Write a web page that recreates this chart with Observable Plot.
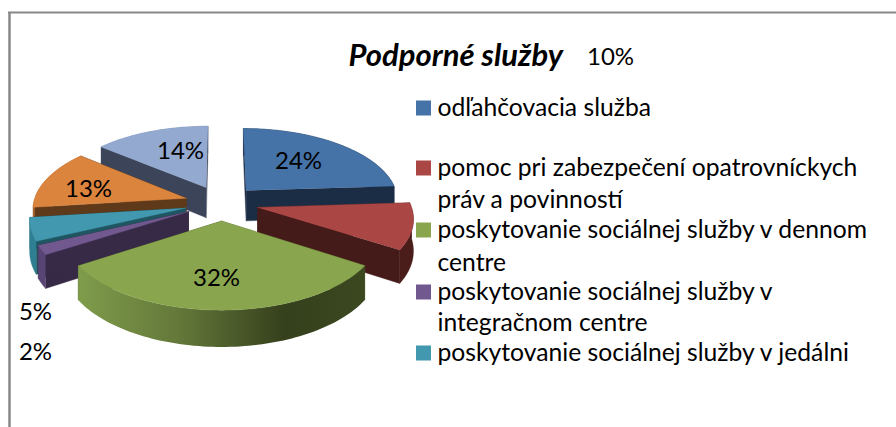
<!DOCTYPE html>
<html>
<head>
<meta charset="utf-8">
<script src="https://cdn.jsdelivr.net/npm/d3@7"></script>
<script src="https://cdn.jsdelivr.net/npm/@observablehq/plot@0.6"></script>
<style>html,body{margin:0;padding:0;background:#fff}svg{display:block}</style>
</head>
<body>
<script>
const titleText = "Podporné služby";
const categories = ["odľahčovacia služba","pomoc pri zabezpečení opatrovníckych práv a povinností","poskytovanie sociálnej služby v dennom centre","poskytovanie sociálnej služby v integračnom centre","poskytovanie sociálnej služby v jedálni","","" ];
const values = [24, 10, 32, 2, 5, 13, 14];
const topColors = ["#4572A7","#AA4643","#89A54E","#71588F","#4198AF","#DB843D","#93A9CF"];
const cutColors = ["#1b2d45","#451b1a","#4e5f2b","#372a47","#1f5661","#5f3a1a","#3b4459"];
const sideColors = ["#1b2d45","#4a1c1a","url(#greenSide)","#584575","#2f7f92","#a9612c","#748aa9"];
const paintOrder = [6,5,4,3,0,1,2];

const legendLines = [
  {t:"odľahčovacia služba", y:108, s:0},
  {t:"pomoc pri zabezpečení opatrovníckych", y:168, s:1},
  {t:"práv a povinností", y:200},
  {t:"poskytovanie sociálnej služby v dennom", y:230, s:2},
  {t:"centre", y:263},
  {t:"poskytovanie sociálnej služby v", y:292, s:3},
  {t:"integračnom centre", y:323},
  {t:"poskytovanie sociálnej služby v jedálni", y:353, s:4}
];
const labelSpots = [[298,161],[610,57],[216,278],[35,352],[35,312],[88,189],[180,151]];

// 3D pie view
const view = {cx:221, cy:202.5, R:153, Rk:72.8, p:0.127, T:31, explode:0.24};
const project = (X, Y, z) => {
  const d = 1 + view.p * Y;
  return {x: view.cx + view.R * X / d, y: view.cy - view.Rk * Y / d + z * view.T / d};
};
const arcs = d3.pie().sort(null).startAngle(0).endAngle(2 * Math.PI)(values);

const polys = [];
for (const i of paintOrder) {
  const a = arcs[i], m = (a.startAngle + a.endAngle) / 2;
  const ox = view.explode * Math.sin(m), oy = view.explode * Math.cos(m);
  const pt = (r, th, z) => project(ox + r * Math.sin(th), oy + r * Math.cos(th), z);
  const n = Math.max(8, Math.round((a.endAngle - a.startAngle) * 40));
  const ths = d3.range(n + 1).map(k => a.startAngle + (a.endAngle - a.startAngle) * k / n);
  const strip = list => [...list.map(t => pt(1, t, 0)), ...list.slice().reverse().map(t => pt(1, t, 1))];
  const back = ths.filter(t => Math.cos(t) >= 0), front = ths.filter(t => Math.cos(t) <= 0);
  if (back.length > 1) polys.push({pts: strip(back), fill: sideColors[i]});
  for (const t of [a.startAngle, a.endAngle]) {
    polys.push({pts: [pt(0,0,0), pt(1,t,0), pt(1,t,1), pt(0,0,1)], fill: cutColors[i]});
  }
  if (front.length > 1) polys.push({pts: strip(front), fill: sideColors[i]});
  polys.push({pts: [pt(0,0,0), ...ths.map(t => pt(1,t,0))], fill: topColors[i]});
}

const defs = () => {
  const d = d3.create("svg:defs");
  const g = d.append("linearGradient").attr("id","greenSide").attr("x1",0).attr("x2",1).attr("y1",0).attr("y2",0);
  [[0,"#7f9c4b"],[0.35,"#64783a"],[0.72,"#35401c"],[1,"#3b4820"]].forEach(([o,c]) => g.append("stop").attr("offset",o).attr("stop-color",c));
  return d.node();
};

const legendSwatches = legendLines.filter(l => l.s !== undefined);
const font = "Lato, Carlito, Calibri, sans-serif";

const chart = Plot.plot({
  width: 896, height: 427, margin: 0,
  x: {domain:[0,896], range:[0,896], axis:null},
  y: {domain:[0,427], range:[0,427], axis:null},
  style: {background:"#fff", fontFamily: font},
  marks: [
    defs,
    Plot.ruleX([9], {y1:12, y2:427, stroke:"#888", strokeWidth:2.5}),
    Plot.ruleY([12], {x1:8, x2:896, stroke:"#888", strokeWidth:2}),
    ...polys.map(p => Plot.line(p.pts, {x:"x", y:"y", fill:p.fill, stroke:p.fill.startsWith("url")?"none":p.fill, strokeWidth:0.4})),
    Plot.text(values, {x:(d,i)=>labelSpots[i][0], y:(d,i)=>labelSpots[i][1], text:d=>d+"%", fontSize:24, fill:"#000"}),
    Plot.text([titleText], {x:348, y:56, text:d=>d, textAnchor:"start", fontSize:31, fontWeight:"bold", fontStyle:"italic", fill:"#000"}),
    Plot.rect(legendSwatches, {x1:416, x2:431, y1:d=>d.y-7.5, y2:d=>d.y+7.5, fill:d=>topColors[d.s]}),
    Plot.text(legendLines, {x:437, y:"y", text:"t", textAnchor:"start", fontSize:24.7, fill:"#000"})
  ],
  color: {type:"identity"}
});
document.body.appendChild(chart);
</script>
</body>
</html>
